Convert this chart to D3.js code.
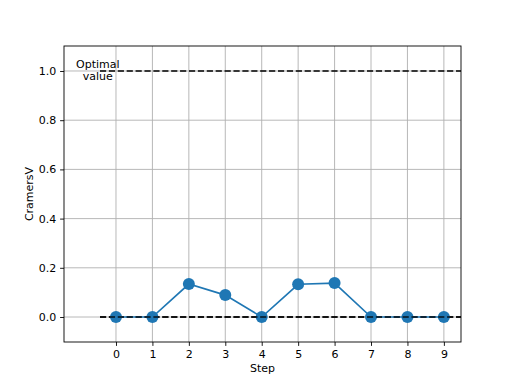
<!DOCTYPE html>
<html><head><meta charset="utf-8">
<script src="https://cdn.jsdelivr.net/npm/d3@7"></script>
<style>body{margin:0;background:#fff}svg{display:block}text{font-family:"DejaVu Sans",sans-serif}</style>
</head><body>
<script>
const steps = [0,1,2,3,4,5,6,7,8,9];
const cramersV = [0,0,0.134,0.089,0,0.133,0.138,0,0,0];
const yTicks = [0,0.2,0.4,0.6,0.8,1.0];
const optimalValue = 1.0;
const baselineValue = 0.0;

const W=512,H=384;
const m={l:64,r:461,t:46,b:342};
const svg=d3.select("body").append("svg").attr("width",W).attr("height",H);
const x=d3.scaleLinear().domain([-1.427,9.47]).range([m.l,m.r]);
const y=d3.scaleLinear().domain([-0.1016,1.1016]).range([m.b,m.t]);

// grid
svg.append("g").selectAll("line").data(steps).join("line")
 .attr("x1",d=>x(d)).attr("x2",d=>x(d)).attr("y1",m.t).attr("y2",m.b)
 .attr("stroke","#b0b0b0").attr("stroke-width",0.9);
svg.append("g").selectAll("line").data(yTicks).join("line")
 .attr("y1",d=>y(d)).attr("y2",d=>y(d)).attr("x1",m.l).attr("x2",m.r)
 .attr("stroke","#b0b0b0").attr("stroke-width",0.9);

// dashed lines
[optimalValue,baselineValue].forEach(v=>{
 svg.append("line").attr("x1",x(-0.44)).attr("x2",x(9.47)).attr("y1",y(v)).attr("y2",y(v))
  .attr("stroke","#000").attr("stroke-width",1.67).attr("stroke-dasharray","6.2,2.7");
});

// series
const line=d3.line().x((d,i)=>x(steps[i])).y(d=>y(d));
svg.append("path").datum(cramersV).attr("d",line).attr("fill","none")
 .attr("stroke","#1f77b4").attr("stroke-width",1.67);
svg.append("g").selectAll("circle").data(cramersV).join("circle")
 .attr("cx",(d,i)=>x(steps[i])).attr("cy",d=>y(d)).attr("r",6).attr("fill","#1f77b4");

// re-draw baseline dash over markers (matches reference)
svg.append("line").attr("x1",x(-0.44)).attr("x2",x(9.47)).attr("y1",y(baselineValue)).attr("y2",y(baselineValue))
  .attr("stroke","#000").attr("stroke-width",1.67).attr("stroke-dasharray","6.2,2.7").attr("opacity",0.85);

// text
const t=svg.append("text").attr("font-size",11).attr("text-anchor","middle").attr("fill","#000");
t.append("tspan").attr("x",x(-0.5)).attr("y",68).text("Optimal");
t.append("tspan").attr("x",x(-0.5)).attr("y",80).text("value");

// axes
const xa=svg.append("g").attr("transform",`translate(0,${m.b})`)
 .call(d3.axisBottom(x).tickValues(steps).tickFormat(d3.format("d")).tickSize(3.9).tickPadding(3.9));
const ya=svg.append("g").attr("transform",`translate(${m.l},0)`)
 .call(d3.axisLeft(y).tickValues(yTicks).tickFormat(d3.format(".1f")).tickSize(3.9).tickPadding(3.9));
[xa,ya].forEach(a=>{a.select(".domain").remove();a.selectAll("text").attr("font-size",11).attr("font-family","DejaVu Sans").attr("fill","#000");a.selectAll("line").attr("stroke","#000").attr("stroke-width",0.9);});
svg.append("rect").attr("x",m.l).attr("y",m.t).attr("width",m.r-m.l).attr("height",m.b-m.t)
 .attr("fill","none").attr("stroke","#000").attr("stroke-width",0.9);

svg.append("text").attr("x",(m.l+m.r)/2).attr("y",372).attr("text-anchor","middle").attr("font-size",11).text("Step");
svg.append("text").attr("transform",`translate(33,${(m.t+m.b)/2}) rotate(-90)`).attr("text-anchor","middle").attr("font-size",11).text("CramersV");
</script>
</body></html>
